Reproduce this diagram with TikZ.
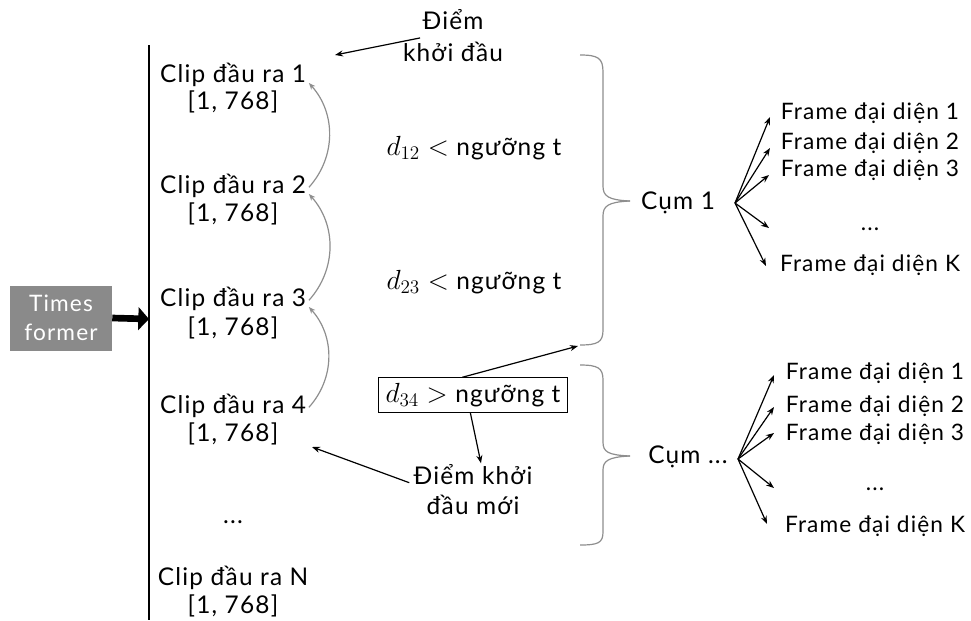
\documentclass[tikz,border=0pt]{standalone}
\usepackage{fontspec}
\setmainfont{Lato}[LetterSpace=5]
\usetikzlibrary{arrows.meta}
\definecolor{boxgray}{HTML}{8A8A8A}
\definecolor{linegray}{HTML}{8E8E8E}
\newcommand{\condmath}[1]{{\fontsize{19.5}{22}\selectfont$#1$}}
\begin{document}
\begin{tikzpicture}[x=0.75pt,y=-0.75pt,
  lbl/.style={font=\fontsize{18.3}{21}\selectfont, inner sep=1pt},
  flbl/.style={font=\fontsize{17}{20}\selectfont, inner sep=1pt},
  arr/.style={line width=0.9pt, -{Stealth[length=6pt,width=4.5pt]}},
  garr/.style={linegray, line width=0.9pt, -{Stealth[length=5pt,width=4pt]}},
  brace/.style={linegray, line width=0.9pt},
]
\useasboundingbox (0,0) rectangle (971,621);

% Times former block
\node[fill=boxgray, text=white, font=\fontsize{17}{22}\selectfont, align=center,
      minimum width=76.5pt, minimum height=48.75pt, inner sep=0pt] (tf) at (61,318) {Times\\former};
\coordinate (axtop) at (149,45);
\coordinate (axbot) at (149,620);
\coordinate (axin) at (149,319);
\draw[line width=0.9pt] (axtop) -- (axbot);
\draw[line width=5pt, -{Triangle[length=8pt,width=17pt]}] (tf.east) -- (axin);

% clips
\node[lbl] (c1) at (233,75) {Clip đầu ra 1};
\node[lbl] (c1d) at (233,102) {[1, 768]};
\node[lbl] (c2) at (233,186) {Clip đầu ra 2};
\node[lbl] (c2d) at (233,214) {[1, 768]};
\node[lbl] (c3) at (233,299) {Clip đầu ra 3};
\node[lbl] (c3d) at (233,328) {[1, 768]};
\node[lbl] (c4) at (233,406) {Clip đầu ra 4};
\node[lbl] (c4d) at (233,434) {[1, 768]};
\node[lbl] (cdots) at (233,522) {...};
\node[lbl] (cN) at (233,578) {Clip đầu ra N};
\node[lbl] (cNd) at (233,606) {[1, 768]};

% gray arcs
\draw[garr] ([xshift=1pt,yshift=-1pt]c2.east) to[bend right=42] ([xshift=1pt,yshift=-6pt]c1.east);
\draw[garr] ([xshift=1pt,yshift=-1pt]c3.east) to[bend right=42] ([xshift=1pt,yshift=-6pt]c2.east);
\draw[garr] ([xshift=1pt,yshift=-1pt]c4.east) to[bend right=42] ([xshift=1pt,yshift=-6pt]c3.east);

% start point
\node[lbl] (k1) at (453,20) {Điểm};
\node[lbl] (k1b) at (453,52) {khởi đầu};
\coordinate (k1end) at (335,55);
\draw[arr] ([xshift=14pt,yshift=2pt]k1b.north west) -- (k1end);

% conditions
\node[lbl] (d12) at (474,148) {\condmath{d_{12} <} ngưỡng t};
\node[lbl] (d23) at (474,282) {\condmath{d_{23} <} ngưỡng t};
\node[lbl, draw, line width=0.6pt, inner xsep=5pt, minimum height=26pt] (d34) at (473,395) {\condmath{d_{34} >} ngưỡng t};

\node[lbl] (ns) at (473,475) {Điểm khởi};
\node[lbl] (nsb) at (473,505) {đầu mới};

\coordinate (b1end) at (578,346);
\coordinate (c4end) at (312,447);
\draw[arr] ([xshift=-8pt]d34.north) -- (b1end);
\draw[arr] ([xshift=-2pt]d34.south) -- ([xshift=6pt]ns.north);
\draw[arr] ([xshift=-2pt,yshift=3pt]ns.south west) -- (c4end);

% braces
\draw[brace] (580,55) .. controls (598,55) and (603,58) .. (603,72) -- (603,186)
  .. controls (603,196) and (608,200) .. (630,201);
\draw[brace] (630,201) .. controls (608,202) and (603,206) .. (603,216) -- (603,330)
  .. controls (603,342) and (598,345) .. (580,345);
\draw[brace] (580,365) .. controls (598,365) and (603,368) .. (603,380) -- (603,442)
  .. controls (603,452) and (608,455) .. (630,456);
\draw[brace] (630,456) .. controls (608,457) and (603,461) .. (603,470) -- (603,532)
  .. controls (603,543) and (598,545) .. (580,545);

% cluster 1
\node[lbl] (cum1) at (678,203) {Cụm 1};
\coordinate (s1) at (735,203);
\node[flbl] (f11) at (870,113) {Frame đại diện 1};
\node[flbl] (f12) at (870,143) {Frame đại diện 2};
\node[flbl] (f13) at (870,170) {Frame đại diện 3};
\node[flbl] (f1d) at (870,229) {...};
\node[flbl] (f1K) at (870,265) {Frame đại diện K};
\coordinate (t11) at (770,117);
\coordinate (t12) at (770,148);
\coordinate (t13) at (769,175);
\coordinate (t1d) at (769,228);
\coordinate (t1K) at (766,266);
\foreach \t in {t11,t12,t13,t1d,t1K} \draw[arr] (s1) -- (\t);

% cluster 2
\node[lbl] (cum2) at (688,457) {Cụm ...};
\coordinate (s2) at (738,459);
\node[flbl] (f21) at (875,373) {Frame đại diện 1};
\node[flbl] (f22) at (875,406) {Frame đại diện 2};
\node[flbl] (f23) at (875,434) {Frame đại diện 3};
\node[flbl] (f2d) at (875,489) {...};
\node[flbl] (f2K) at (875,526) {Frame đại diện K};
\coordinate (t21) at (774,375);
\coordinate (t22) at (774,407);
\coordinate (t23) at (774,433);
\coordinate (t2d) at (774,488);
\coordinate (t2K) at (767,524);
\foreach \t in {t21,t22,t23,t2d,t2K} \draw[arr] (s2) -- (\t);
\end{tikzpicture}
\end{document}
